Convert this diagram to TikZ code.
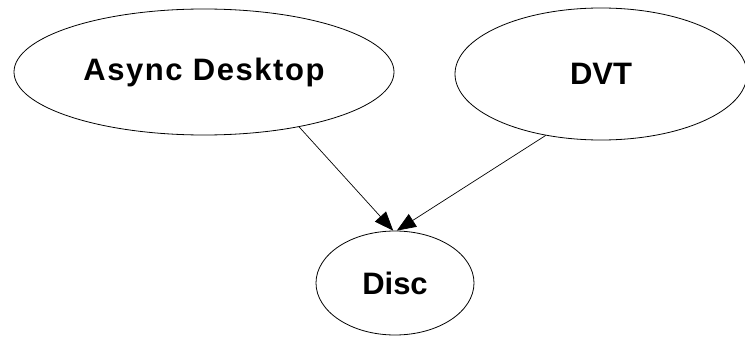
\documentclass[tikz,border=0pt]{standalone}
\usepackage{fontspec}
\setmainfont{Liberation Sans}
\usetikzlibrary{shapes.geometric,arrows.meta}
\tikzset{
	blob/.style={draw, ellipse, inner sep=0pt, line width=0.8pt,
		font=\bfseries\fontsize{31}{31}\selectfont},
	link/.style={line width=0.7pt, -{Triangle[length=19pt,width=15pt]}}
}
\begin{document}
\begin{tikzpicture}[x=1pt,y=-1pt]
			%%%%% START %%%%%
			
			\useasboundingbox (0,0) rectangle (745,337);
			
			\node[blob, minimum width=380pt, minimum height=126pt] (async) at (204,72) {\addfontfeature{LetterSpace=5}Async Desktop};
			\node[blob, minimum width=292pt, minimum height=132pt] (dvt) at (601,74) {DVT};
			\node[blob, minimum width=158pt, minimum height=104pt] (disc) at (395,283) {Disc};
			
			\draw[link] (async.-30.6) -- (disc.92);
			\draw[link] (dvt.-132) -- (disc.88);
			
			%%%%% END %%%%%
\end{tikzpicture}
\end{document}
